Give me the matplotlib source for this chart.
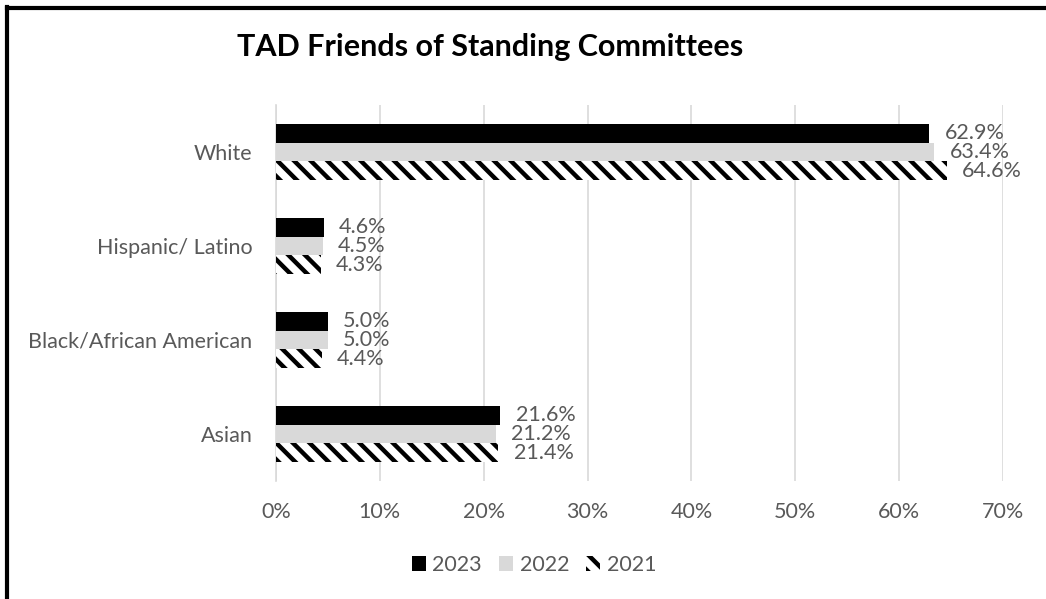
import matplotlib.pyplot as plt
from matplotlib.lines import Line2D
from matplotlib.patches import Patch
from matplotlib.ticker import FuncFormatter

# Share of friends of standing committees by race/ethnicity (percent)
categories = ["White", "Hispanic/ Latino", "Black/African American", "Asian"]
years = ["2023", "2022", "2021"]
share_2023 = [62.9, 4.6, 5.0, 21.6]
share_2022 = [63.4, 4.5, 5.0, 21.2]
share_2021 = [64.6, 4.3, 4.4, 21.4]
x_ticks = [0, 10, 20, 30, 40, 50, 60, 70]

TEXT_GREY = "#595959"
GRID_GREY = "#D9D9D9"
FS = 15.5

plt.rcParams["font.family"] = ["Lato", "DejaVu Sans"]
plt.rcParams["hatch.linewidth"] = 3.2

W, H = 1046, 599
fig = plt.figure(figsize=(W / 100, H / 100), dpi=100)
fig.patch.set_facecolor("white")

left, right, top, bottom = 276, 1003, 105, 481
ax = fig.add_axes([left / W, 1 - bottom / H, (right - left) / W, (bottom - top) / H])

series = [
    (share_2023, dict(color="black")),
    (share_2022, dict(color=GRID_GREY)),
    (share_2021, dict(facecolor="white", edgecolor="black", hatch="\\\\", linewidth=0)),
]
bar_h = 0.2
offsets = [-bar_h, 0.0, bar_h]

for (values, style), off in zip(series, offsets):
    ypos = [i + off for i in range(len(categories))]
    ax.barh(ypos, values, height=bar_h, zorder=3, **style)
    for y, v in zip(ypos, values):
        ax.annotate(f"{v:.1f}%", xy=(v, y), xytext=(11, 0), textcoords="offset points",
                    ha="left", va="center", fontsize=FS, color=TEXT_GREY)

ax.set_xlim(0, 70)
ax.set_ylim(len(categories) - 0.5, -0.5)
ax.set_xticks(x_ticks)
ax.xaxis.set_major_formatter(FuncFormatter(lambda v, _: f"{v:.0f}%"))
ax.set_yticks(range(len(categories)))
ax.set_yticklabels(categories)
ax.tick_params(axis="both", length=0, labelsize=FS, labelcolor=TEXT_GREY)
ax.tick_params(axis="x", pad=15)
ax.tick_params(axis="y", pad=17)
ax.grid(axis="x", color=GRID_GREY, linewidth=1.2, zorder=0)
for side in ["top", "right", "bottom"]:
    ax.spines[side].set_visible(False)
ax.spines["left"].set_color(GRID_GREY)
ax.spines["left"].set_linewidth(1.2)

fig.text(490 / W, 1 - 47 / H, "TAD Friends of Standing Committees",
         ha="center", va="center", fontsize=22, fontweight="bold", color="black")

handles = [Patch(facecolor="black"),
           Patch(facecolor=GRID_GREY),
           Patch(facecolor="white", edgecolor="black", hatch="\\\\", linewidth=0)]
fig.legend(handles, years, loc="center", bbox_to_anchor=(534 / W, 1 - 565 / H),
           ncol=3, frameon=False, fontsize=FS, labelcolor=TEXT_GREY,
           handlelength=0.65, handleheight=0.65, handletextpad=0.3, columnspacing=0.8)

# chart frame edges on the left and top
fig.add_artist(Line2D([7 / W, 7 / W], [0, 1 - 7 / H], color="black", linewidth=3,
                      transform=fig.transFigure, solid_capstyle="projecting"))
fig.add_artist(Line2D([7 / W, 1], [1 - 7.5 / H, 1 - 7.5 / H], color="black", linewidth=3,
                      transform=fig.transFigure, solid_capstyle="projecting"))

fig.savefig("out.png", dpi=100)
